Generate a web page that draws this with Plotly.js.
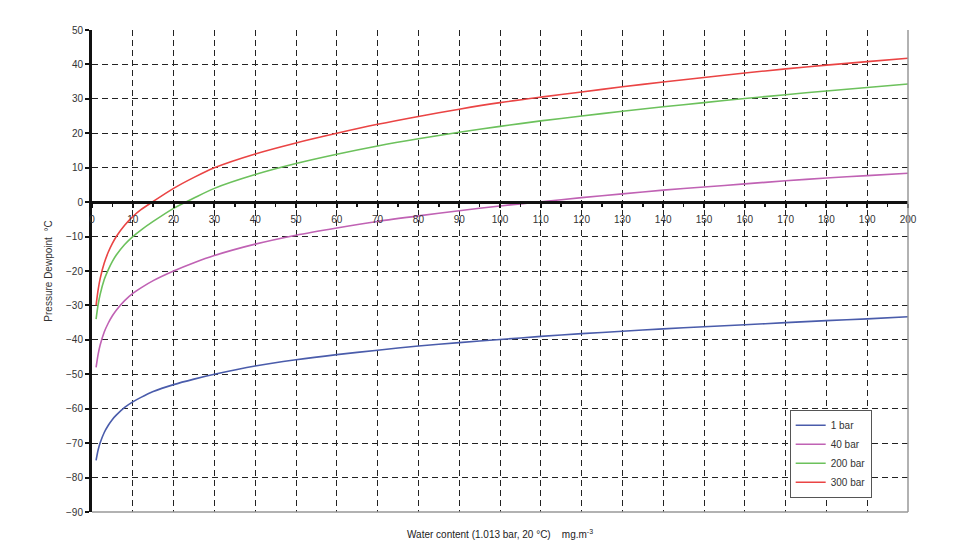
<!DOCTYPE html>
<html>
<head>
<meta charset="utf-8">
<script src="https://cdn.plot.ly/plotly-3.0.1.min.js"></script>
<style>html,body{margin:0;padding:0;background:#fff;}#chart{width:962px;height:551px;}</style>
</head>
<body>
<div id="chart"></div>
<script>
const waterContent = [1, 1.5, 2, 3, 4, 5, 6, 8, 10, 12, 15, 20, 25, 30, 40, 50, 60, 70, 80, 90, 100, 110, 120, 130, 140, 150, 160, 170, 180, 190, 200];
const dew1bar   = [-75, -72, -69.9, -66.9, -64.8, -63.1, -61.8, -59.6, -58, -56.7, -55, -53, -51.4, -50, -47.6, -45.8, -44.3, -43, -41.8, -40.8, -39.9, -39, -38.2, -37.5, -36.8, -36.2, -35.6, -35, -34.4, -33.9, -33.3];
const dew40bar  = [-48, -44.2, -41.5, -37.7, -35.1, -33, -31.3, -28.6, -26.5, -24.9, -22.8, -20, -17.6, -15.5, -12.2, -9.6, -7.5, -5.6, -4, -2.5, -1.1, 0.1, 1.3, 2.4, 3.5, 4.4, 5.3, 6.2, 7, 7.7, 8.4];
const dew200bar = [-34, -29.8, -26.8, -22.5, -19.6, -17.2, -15.3, -12.3, -10, -8.1, -5.6, -1.8, 1.2, 4, 8, 11.2, 13.9, 16.3, 18.4, 20.3, 22, 23.6, 25, 26.4, 27.7, 28.9, 30.1, 31.2, 32.3, 33.3, 34.3];
const dew300bar = [-30, -25.5, -22.2, -17.7, -14.5, -12, -9.9, -6.7, -4.2, -2.2, 0.2, 4, 7.2, 10, 14, 17.2, 20, 22.6, 24.9, 27, 28.9, 30.5, 32, 33.5, 34.9, 36.2, 37.5, 38.7, 39.8, 40.8, 41.8];
const seriesNames = ['1 bar', '40 bar', '200 bar', '300 bar'];
const seriesColors = ['#4a5cab', '#c062b4', '#6cc15c', '#ea4444'];
const seriesData = [dew1bar, dew40bar, dew200bar, dew300bar];

const traces = seriesData.map((ys, i) => ({
  x: waterContent, y: ys, type: 'scatter', mode: 'lines',
  name: seriesNames[i], line: {color: seriesColors[i], width: 1.6, shape: 'spline', smoothing: 0.8}
}));

const yMin = -90, yMax = 50;
const gridDash = '6px,4px';
const layout = {
  width: 962, height: 551,
  margin: {l: 92, r: 54, t: 30, b: 39},
  paper_bgcolor: '#fff', plot_bgcolor: '#fff',
  font: {family: 'Liberation Sans, Arial, sans-serif', size: 10, color: '#333'},
  showlegend: true,
  legend: {x: 0.855, y: 0.212, xanchor: 'left', yanchor: 'top', bgcolor: '#fff',
           bordercolor: '#555', borderwidth: 1, font: {size: 10, color: '#333'},
           tracegroupgap: 0, itemwidth: 30},
  xaxis: {
    range: [0, 200], dtick: 10, tick0: 0,
    anchor: 'free', position: (0 - yMin) / (yMax - yMin),
    showline: true, linecolor: '#111', linewidth: 2.5,
    ticks: 'outside', ticklen: 4, tickcolor: '#111', tickwidth: 2,
    minor: {dtick: 5, ticks: 'outside', ticklen: 3, tickcolor: '#111', tickwidth: 1.5, showgrid: false},
    showgrid: true, gridcolor: '#222', griddash: gridDash, gridwidth: 1,
    zeroline: false, ticklabelstandoff: 3,
    tickfont: {size: 10, color: '#333'}
  },
  yaxis: {
    range: [yMin, yMax], dtick: 10,
    showline: true, linecolor: '#111', linewidth: 3,
    ticks: 'outside', ticklen: 4, tickcolor: '#111', tickwidth: 2,
    showgrid: true, gridcolor: '#222', griddash: gridDash, gridwidth: 1,
    zeroline: false,
    tickfont: {size: 10, color: '#333'},
    title: {text: 'Pressure Dewpoint  °C', font: {size: 10, color: '#333'}, standoff: 12}
  },
  annotations: [
    {text: 'Water content (1.013 bar, 20 °C)    mg.m<sup>-3</sup>', xref: 'paper', yref: 'paper',
     x: 0.5, y: 0, xanchor: 'center', yanchor: 'middle', yshift: -22, showarrow: false,
     font: {size: 10, color: '#222'}}
  ],
  shapes: [
    {type: 'line', xref: 'paper', yref: 'paper', x0: 1, x1: 1, y0: 0, y1: 1, line: {color: '#999', width: 1.5}},
    {type: 'line', xref: 'paper', yref: 'paper', x0: 0, x1: 1, y0: 0, y1: 0, line: {color: '#999', width: 1.5}}
  ]
};

Plotly.newPlot('chart', traces, layout, {displayModeBar: false, staticPlot: true});
</script>
</body>
</html>
